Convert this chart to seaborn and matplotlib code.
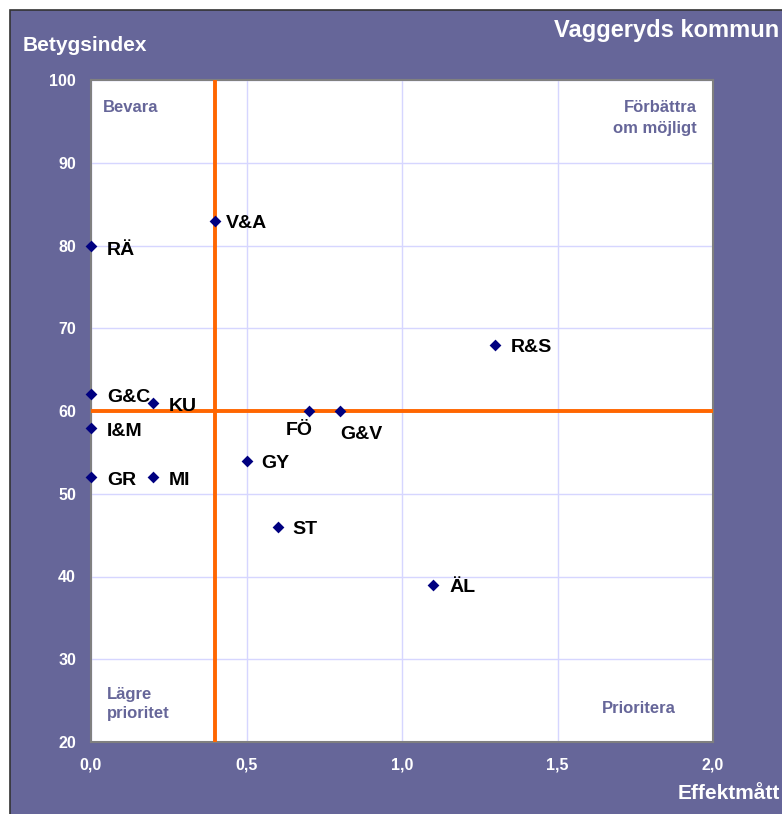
import matplotlib
matplotlib.use("Agg")
import matplotlib.pyplot as plt
from matplotlib.patches import Rectangle
import pandas as pd
import seaborn as sns

# --- Data --------------------------------------------------------------------
labels = ["RÄ", "V&A", "R&S", "G&C", "KU", "I&M", "FÖ", "G&V", "GY", "GR", "MI", "ST", "ÄL"]
effekt = [0.0, 0.4, 1.3, 0.0, 0.2, 0.0, 0.7, 0.8, 0.5, 0.0, 0.2, 0.6, 1.1]
betyg  = [80, 83, 68, 62, 61, 58, 60, 60, 54, 52, 52, 46, 39]

x_ticks = [0.0, 0.5, 1.0, 1.5, 2.0]
x_tick_labels = ["0,0", "0,5", "1,0", "1,5", "2,0"]
y_ticks = [20, 30, 40, 50, 60, 70, 80, 90, 100]

x_split = 0.4
y_split = 60

PURPLE = "#666699"
NAVY = "#000080"
ORANGE = "#FF6600"
GRID = "#D6D6FF"

W, H = 782, 814
PX = 0.72  # points per pixel at 100 dpi

df = pd.DataFrame({"label": labels, "effekt": effekt, "betyg": betyg})

sns.set_style("white")
plt.rcParams["font.family"] = ["Liberation Sans", "DejaVu Sans"]

fig = plt.figure(figsize=(W / 100, H / 100), dpi=100, facecolor="white")
# purple frame behind everything (edges on right/bottom pushed off the canvas)
fig.patches.append(Rectangle((10 / W, -0.01), 1.02, 1 - 10 / H + 0.01,
                             transform=fig.transFigure, facecolor=PURPLE,
                             edgecolor="#333333", linewidth=1.2, zorder=-5))

ax = fig.add_axes([91 / W, 1 - 742 / H, (713 - 91) / W, (742 - 80) / H])
ax.set_facecolor("white")

sns.scatterplot(data=df, x="effekt", y="betyg", marker="D", s=36,
                color=NAVY, edgecolor=NAVY, linewidth=0, ax=ax, zorder=5,
                clip_on=False)

ax.axvline(x_split, color=ORANGE, lw=2.8, zorder=3)
ax.axhline(y_split, color=ORANGE, lw=2.8, zorder=3)

ax.set_xlim(0, 2)
ax.set_ylim(20, 100)
ax.set_xticks(x_ticks)
ax.set_xticklabels(x_tick_labels)
ax.set_yticks(y_ticks)
ax.grid(True, color=GRID, lw=1, zorder=0)
ax.set_axisbelow(True)
for sp in ax.spines.values():
    sp.set_color("#808080")
    sp.set_linewidth(1.5)
ax.tick_params(axis="y", direction="in", length=4, color="#808080",
               pad=15 * PX, labelcolor="white", labelsize=11.5)
ax.tick_params(axis="x", length=0, pad=15 * PX, labelcolor="white",
               labelsize=11.5)
for t in ax.get_xticklabels() + ax.get_yticklabels():
    t.set_fontweight("bold")
ax.set_xlabel("")
ax.set_ylabel("")

# point labels: (dx, baseline dy) in pixels, dy positive = downwards
offsets = {
    "RÄ": (16, 9.5), "V&A": (10, 7.5), "R&S": (15, 7.5), "G&C": (16, 8),
    "KU": (16, 8), "I&M": (16, 8.5), "FÖ": (-9, 23.5), "G&V": (0, 28),
    "GY": (15, 7.5), "GR": (16, 8), "MI": (16, 8), "ST": (15, 7.5),
    "ÄL": (16, 7.5),
}
for lab, xv, yv in zip(labels, effekt, betyg):
    dx, dy = offsets[lab]
    ha = "center" if lab == "FÖ" else "left"
    ax.annotate(lab, (xv, yv), xytext=(dx * PX, -dy * PX),
                textcoords="offset points", ha=ha, va="baseline",
                fontsize=14, fontweight="bold", color="black", zorder=6,
                annotation_clip=False)

# quadrant labels (figure pixel positions, baselines)
qkw = dict(color=PURPLE, fontsize=12, fontweight="bold", va="baseline")
fig.text(103 / W, 1 - 112 / H, "Bevara", ha="left", **qkw)
fig.text(697 / W, 1 - 112 / H, "Förbättra", ha="right", **qkw)
fig.text(697 / W, 1 - 133 / H, "om möjligt", ha="right", **qkw)
fig.text(107 / W, 1 - 699 / H, "Lägre", ha="left", **qkw)
fig.text(107 / W, 1 - 718 / H, "prioritet", ha="left", **qkw)
fig.text(676 / W, 1 - 713 / H, "Prioritera", ha="right", **qkw)

# titles
fig.text(23 / W, 1 - 51 / H, "Betygsindex", color="white", fontsize=15,
         fontweight="bold", ha="left", va="baseline")
fig.text(779 / W, 1 - 37 / H, "Vaggeryds kommun", color="white",
         fontsize=17, fontweight="bold", ha="right", va="baseline")
fig.text(780 / W, 1 - 799 / H, "Effektmått", color="white", fontsize=15,
         fontweight="bold", ha="right", va="baseline")

fig.savefig("out.png", dpi=100, facecolor=fig.get_facecolor())
